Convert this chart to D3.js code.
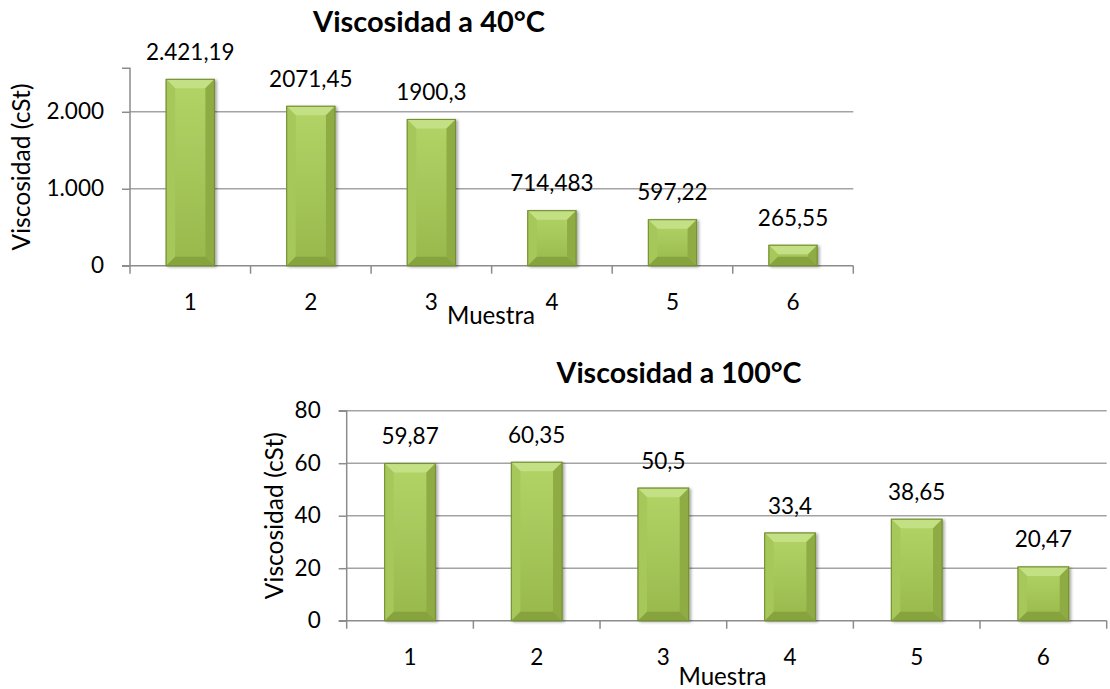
<!DOCTYPE html>
<html>
<head>
<meta charset="utf-8">
<script src="https://cdn.jsdelivr.net/npm/d3@7"></script>
<style>
  html, body { margin: 0; padding: 0; background: #ffffff; }
  svg { display: block; }
  text { font-family: Lato, "Open Sans", sans-serif; fill: #000; }
</style>
</head>
<body>
<svg id="chart" width="1110" height="689"></svg>
<script>
// ---------------- DATA ----------------
const categories = ["1", "2", "3", "4", "5", "6"];
const values40 = [2421.19, 2071.45, 1900.3, 714.483, 597.22, 265.55];
const labels40 = ["2.421,19", "2071,45", "1900,3", "714,483", "597,22", "265,55"];
const ticks40 = [0, 1000, 2000];
const values100 = [59.87, 60.35, 50.5, 33.4, 38.65, 20.47];
const labels100 = ["59,87", "60,35", "50,5", "33,4", "38,65", "20,47"];
const ticks100 = [0, 20, 40, 60, 80];
const title40 = "Viscosidad a 40°C";
const title100 = "Viscosidad a 100°C";
const yTitle = "Viscosidad (cSt)";
const xTitle = "Muestra";

const esLocale = d3.formatLocale({decimal: ",", thousands: ".", grouping: [3], currency: ["", "€"]});
const fmtThousands = esLocale.format(",");

const svg = d3.select("#chart");
const defs = svg.append("defs");

// gradients for bars
const gFace = defs.append("linearGradient").attr("id", "face").attr("x1", 0).attr("x2", 1).attr("y1", 0).attr("y2", 0);
gFace.append("stop").attr("offset", "0%").attr("stop-color", "#9cbd4f");
gFace.append("stop").attr("offset", "50%").attr("stop-color", "#a9cb5c");
gFace.append("stop").attr("offset", "100%").attr("stop-color", "#9ebf51");
const gFaceV = defs.append("linearGradient").attr("id", "faceV").attr("x1", 0).attr("x2", 0).attr("y1", 0).attr("y2", 1);
gFaceV.append("stop").attr("offset", "0%").attr("stop-color", "#b2d467");
gFaceV.append("stop").attr("offset", "100%").attr("stop-color", "#98b84c");
const shadow = defs.append("filter").attr("id", "shadow").attr("x", "-20%").attr("y", "-20%").attr("width", "150%").attr("height", "150%");
shadow.append("feGaussianBlur").attr("in", "SourceAlpha").attr("stdDeviation", 1.5).attr("result", "b");
shadow.append("feOffset").attr("in", "b").attr("dx", 2).attr("dy", 1).attr("result", "o");
shadow.append("feComponentTransfer").attr("in", "o").attr("result", "o2")
  .append("feFuncA").attr("type", "linear").attr("slope", 0.35);
const mg = shadow.append("feMerge");
mg.append("feMergeNode").attr("in", "o2");
mg.append("feMergeNode").attr("in", "SourceGraphic");

function fitText(sel, target, base) {
  sel.style("font-size", base + "px");
  const w = sel.node().getComputedTextLength();
  if (w > 0) sel.style("font-size", (base * target / w) + "px");
}

function drawChart(cfg) {
  const g = svg.append("g");
  const x = d3.scaleBand().domain(categories).range([cfg.left, cfg.right]).paddingInner(0.6).paddingOuter(0.3);
  const xb = d3.scaleLinear().domain([0, categories.length]).range([cfg.left, cfg.right]);
  const y = d3.scaleLinear().domain([0, cfg.max]).range([cfg.bottom, cfg.top]);

  // gridlines
  g.append("g").selectAll("line").data(cfg.ticks.filter(t => t > 0))
    .join("line")
    .attr("x1", cfg.left).attr("x2", cfg.right)
    .attr("y1", d => y(d)).attr("y2", d => y(d))
    .attr("stroke", "#a3a3a3").attr("stroke-width", 1.5);

  // y axis
  const yAxis = d3.axisLeft(y).tickValues(cfg.ticks).tickSize(8).tickPadding(18)
    .tickFormat(cfg.tickFormat);
  const ya = g.append("g").attr("transform", `translate(${cfg.left},0)`).call(yAxis);
  ya.select(".domain").attr("d", `M-8,${cfg.top}H0V${cfg.bottom}`).attr("stroke", "#8c8c8c").attr("stroke-width", 1.5).attr("fill", "none");
  ya.selectAll(".tick line").attr("stroke", "#8c8c8c").attr("stroke-width", 1.5);
  ya.selectAll(".tick text").attr("fill", "#000").style("font-size", "22.5px").style("font-family", "Lato");

  // x axis baseline + boundary ticks
  g.append("line").attr("x1", cfg.left - 8).attr("x2", cfg.right)
    .attr("y1", cfg.bottom).attr("y2", cfg.bottom)
    .attr("stroke", "#8c8c8c").attr("stroke-width", 1.5);
  g.append("g").selectAll("line").data(d3.range(categories.length + 1))
    .join("line")
    .attr("x1", d => xb(d)).attr("x2", d => xb(d))
    .attr("y1", cfg.bottom).attr("y2", cfg.bottom + 8)
    .attr("stroke", "#8c8c8c").attr("stroke-width", 1.5);
  g.append("g").selectAll("text").data(categories)
    .join("text")
    .attr("x", d => x(d) + x.bandwidth() / 2)
    .attr("y", cfg.bottom + 44)
    .attr("text-anchor", "middle")
    .style("font-size", "22.5px")
    .text(d => d);

  // bars
  const bw = x.bandwidth();
  const bev = 9;
  const bars = g.append("g").selectAll("g").data(cfg.values.map((v, i) => ({v, c: categories[i], l: cfg.labels[i]})))
    .join("g");
  bars.append("rect")
    .attr("x", d => x(d.c)).attr("y", d => y(d.v))
    .attr("width", bw).attr("height", d => cfg.bottom - y(d.v))
    .attr("fill", "url(#faceV)").attr("stroke", "#7a9536").attr("stroke-width", 1)
    .attr("filter", "url(#shadow)");
  // bevel: top
  bars.append("path").attr("d", d => {
    const x0 = x(d.c), x1 = x0 + bw, yt = y(d.v);
    const b = Math.min(bev, (cfg.bottom - yt) / 2);
    return `M${x0},${yt}H${x1}L${x1 - bev},${yt + b}H${x0 + bev}Z`;
  }).attr("fill", "#c4e084");
  // left side
  bars.append("path").attr("d", d => {
    const x0 = x(d.c), yt = y(d.v);
    const b = Math.min(bev, (cfg.bottom - yt) / 2);
    return `M${x0},${yt}L${x0 + bev},${yt + b}V${cfg.bottom - b}L${x0},${cfg.bottom}Z`;
  }).attr("fill", "#a6c75a");
  // right side
  bars.append("path").attr("d", d => {
    const x1 = x(d.c) + bw, yt = y(d.v);
    const b = Math.min(bev, (cfg.bottom - yt) / 2);
    return `M${x1},${yt}L${x1 - bev},${yt + b}V${cfg.bottom - b}L${x1},${cfg.bottom}Z`;
  }).attr("fill", "#8eac43");
  // bottom
  bars.append("path").attr("d", d => {
    const x0 = x(d.c), x1 = x0 + bw, yt = y(d.v);
    const b = Math.min(bev, (cfg.bottom - yt) / 2);
    return `M${x0},${cfg.bottom}H${x1}L${x1 - bev},${cfg.bottom - b}H${x0 + bev}Z`;
  }).attr("fill", "#86a33d");
  // outline
  bars.append("rect")
    .attr("x", d => x(d.c)).attr("y", d => y(d.v))
    .attr("width", bw).attr("height", d => cfg.bottom - y(d.v))
    .attr("fill", "none").attr("stroke", "#748f33").attr("stroke-width", 1);
  // data labels
  bars.append("text")
    .attr("x", d => x(d.c) + bw / 2)
    .attr("y", d => y(d.v) - 19.5)
    .attr("text-anchor", "middle")
    .style("font-size", "22.5px")
    .text(d => d.l);

  // title
  const t = g.append("text").attr("x", cfg.titleX).attr("y", cfg.titleY)
    .attr("text-anchor", "middle").style("font-weight", "bold").text(cfg.title);
  fitText(t, cfg.titleW, 29);
  // y title
  const yt = g.append("text")
    .attr("transform", `translate(${cfg.yTitleX},${(cfg.top + cfg.bottom) / 2}) rotate(-90)`)
    .attr("text-anchor", "middle").text(yTitle);
  fitText(yt, 167, 21);
  // x title
  const xt = g.append("text").attr("x", cfg.xTitleX).attr("y", cfg.xTitleY)
    .attr("text-anchor", "middle").text(xTitle);
  fitText(xt, 88, 21);
}

drawChart({
  values: values40, labels: labels40, ticks: ticks40, max: 2565,
  left: 130, right: 853.3, top: 68.3, bottom: 265.7,
  tickFormat: d => fmtThousands(d),
  title: title40, titleX: 429, titleY: 31.5, titleW: 232,
  yTitleX: 30, xTitleX: 491, xTitleY: 324
});
drawChart({
  values: values100, labels: labels100, ticks: ticks100, max: 80,
  left: 346.7, right: 1106.7, top: 410.7, bottom: 620.7,
  tickFormat: d => String(d),
  title: title100, titleX: 679, titleY: 383, titleW: 245,
  yTitleX: 283, xTitleX: 722.5, xTitleY: 685
});
</script>
</body>
</html>
